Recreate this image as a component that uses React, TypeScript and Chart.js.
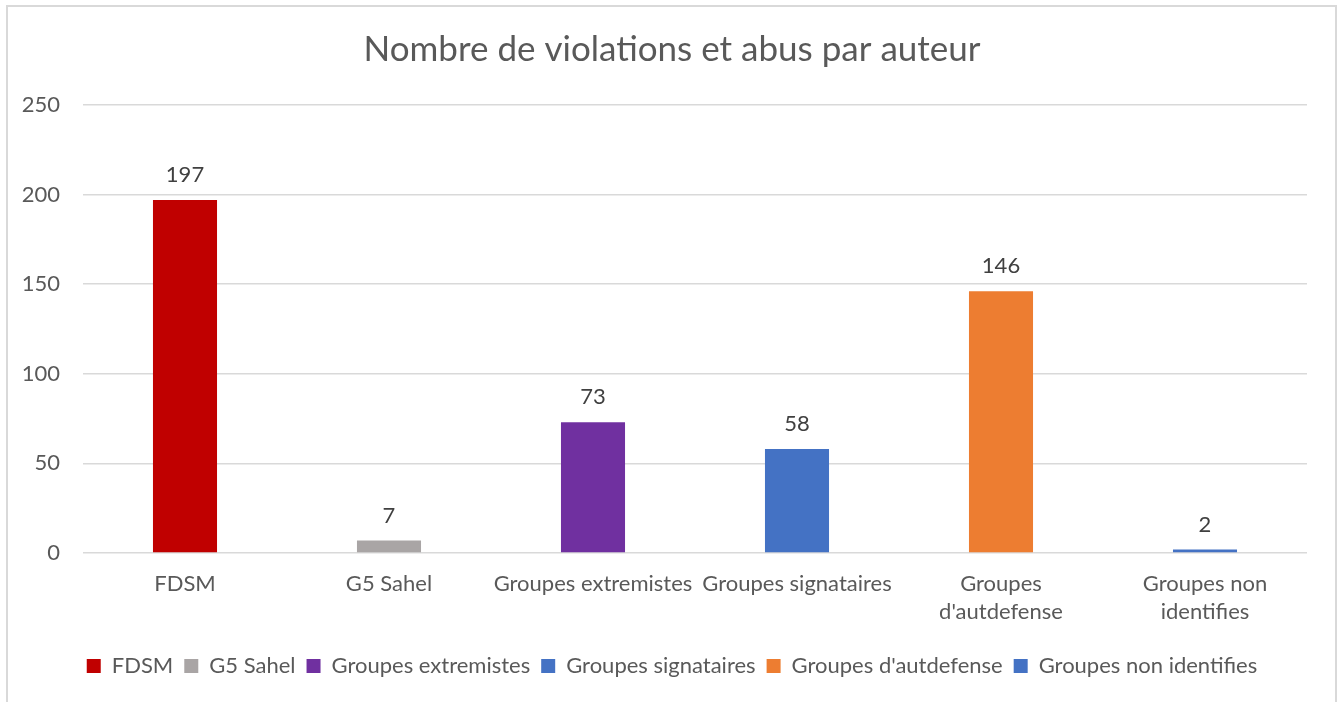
import React, { useEffect, useRef } from "react";
import { Chart, registerables } from "chart.js";

Chart.register(...registerables);

const chartTitle = "Nombre de violations et abus par auteur";
const categories = [
  "FDSM",
  "G5 Sahel",
  "Groupes extremistes",
  "Groupes signataires",
  "Groupes d'autdefense",
  "Groupes non identifies",
];
const tickLabels: (string | string[])[] = [
  "FDSM",
  "G5 Sahel",
  "Groupes extremistes",
  "Groupes signataires",
  ["Groupes", "d'autdefense"],
  ["Groupes non", "identifies"],
];
const values = [197, 7, 73, 58, 146, 2];
const barColors = ["#C00000", "#A9A5A5", "#7030A0", "#4472C4", "#ED7D31", "#4472C4"];
const yTicks = [0, 50, 100, 150, 200, 250];

const FONT = "Lato, 'Open Sans', sans-serif";
const TEXT = "#595959";

const borderPlugin = {
  id: "frame",
  beforeDraw(chart: any) {
    const { ctx, width, height } = chart;
    ctx.save();
    ctx.fillStyle = "#ffffff";
    ctx.fillRect(0, 0, width, height);
    ctx.strokeStyle = "#d9d9d9";
    ctx.lineWidth = 2;
    ctx.strokeRect(7, 6, 1329, 800);
    ctx.restore();
  },
};

const valueLabelPlugin = {
  id: "valueLabels",
  afterDatasetsDraw(chart: any) {
    const { ctx } = chart;
    const meta = chart.getDatasetMeta(0);
    ctx.save();
    ctx.font = `22px ${FONT}`;
    ctx.fillStyle = "#404040";
    ctx.textAlign = "center";
    ctx.textBaseline = "middle";
    meta.data.forEach((bar: any, i: number) => {
      ctx.fillText(String(chart.data.datasets[0].data[i]), bar.x, bar.y - 25);
    });
    ctx.restore();
  },
};

export default function App() {
  const ref = useRef<HTMLCanvasElement | null>(null);
  useEffect(() => {
    if (!ref.current) return;
    const chart = new Chart(ref.current, {
      type: "bar",
      data: {
        labels: tickLabels as any,
        datasets: [
          {
            label: "Valeurs",
            data: values,
            backgroundColor: barColors,
            borderWidth: 0,
            categoryPercentage: 1,
            barPercentage: 0.314,
            yAxisID: "y",
          },
        ],
      },
      options: {
        responsive: false,
        animation: false,
        devicePixelRatio: 1,
        layout: { padding: { left: 0, right: 0, top: 0, bottom: 15 } },
        plugins: {
          title: {
            display: true,
            text: chartTitle,
            color: TEXT,
            font: { family: FONT, size: 35, weight: "normal", lineHeight: 1.2 },
            padding: { top: 29, bottom: 34 },
          },
          legend: {
            display: true,
            position: "bottom",
            labels: {
              color: TEXT,
              font: { family: FONT, size: 22 },
              boxWidth: 14,
              boxHeight: 14,
              padding: 11,
              generateLabels: () =>
                categories.map((c, i) => ({
                  text: c,
                  fillStyle: barColors[i],
                  strokeStyle: barColors[i],
                  lineWidth: 0,
                  hidden: false,
                  index: i,
                  datasetIndex: 0,
                  fontColor: TEXT,
                })),
            },
            onClick: () => {},
          },
          tooltip: { enabled: false },
        },
        scales: {
          x: {
            grid: { display: false, drawTicks: false },
            border: { display: false },
            ticks: {
              color: TEXT,
              font: { family: FONT, size: 22, lineHeight: 1.273 },
              padding: 17,
              maxRotation: 0,
              autoSkip: false,
            },
            afterFit(scale: any) {
              scale.height = 91;
            },
          },
          y: {
            position: "left",
            min: 0,
            max: 250,
            afterBuildTicks(scale: any) {
              scale.ticks = yTicks.map((v) => ({ value: v }));
            },
            grid: { color: "#d9d9d9", lineWidth: 1.5, drawTicks: false },
            border: { display: false },
            ticks: {
              color: TEXT,
              font: { family: FONT, size: 22 },
              padding: 23,
            },
            afterFit(scale: any) {
              scale.width = 83;
            },
          },
          yRight: {
            position: "right",
            min: 0,
            max: 250,
            grid: { display: false, drawTicks: false },
            border: { display: false },
            ticks: { display: false },
            afterFit(scale: any) {
              scale.width = 37;
            },
          },
        },
      },
      plugins: [borderPlugin, valueLabelPlugin],
    });
    return () => chart.destroy();
  }, []);
  return (
    <div style={{ position: "absolute", left: 0, top: 0, width: 1344, height: 702 }}>
      <canvas ref={ref} width={1344} height={702} />
    </div>
  );
}
